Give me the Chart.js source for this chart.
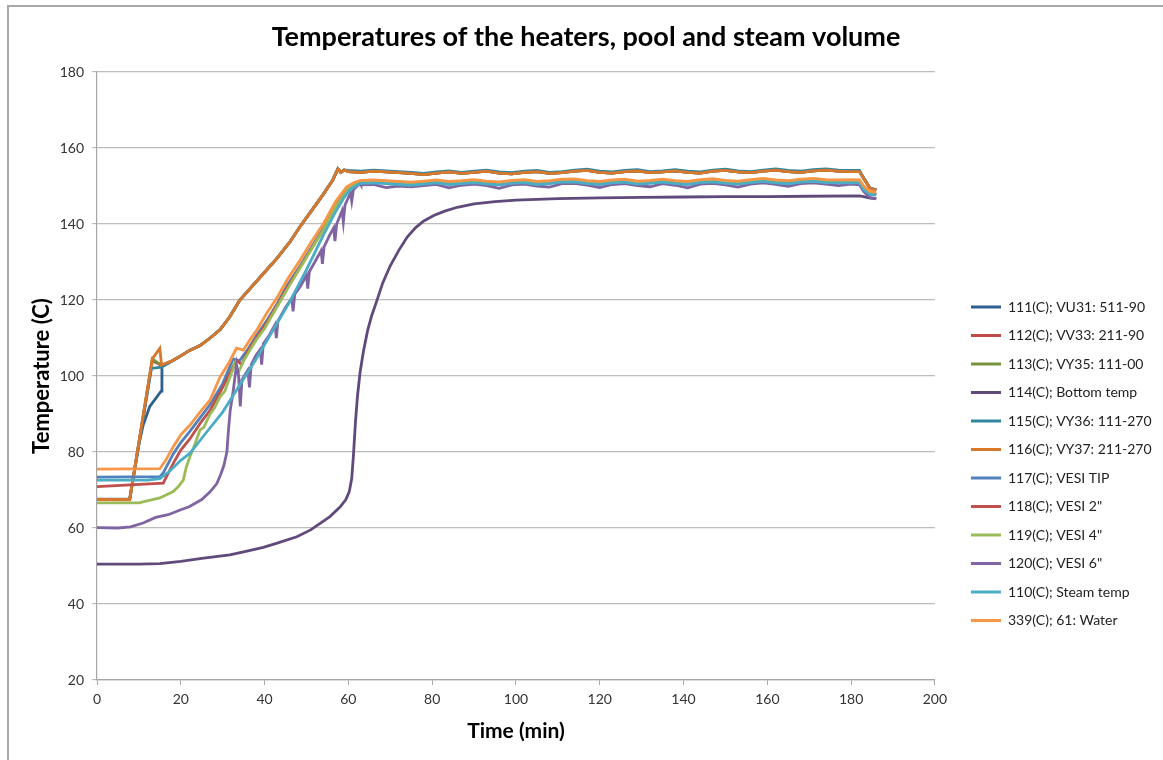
<!DOCTYPE html>
<html>
<head>
<meta charset="utf-8">
<script src="https://cdn.jsdelivr.net/npm/chart.js@4.4.1/dist/chart.umd.min.js"></script>
<style>
  html, body { margin: 0; padding: 0; background: #fff; }
  #frame { position: absolute; left: 7px; top: 5px; width: 1170px; height: 770px; border-left: 2px solid #a8a8a8; border-top: 2px solid #a8a8a8; }
  #wrap { position: absolute; left: 0; top: 0; width: 1163px; height: 760px; }
</style>
</head>
<body>
<div id="frame"></div>
<div id="wrap"><canvas id="chart" width="1163" height="760"></canvas></div>
<script>
// --- series names and colours (legend order) ---
const seriesNames = [
  '111(C); VU31: 511-90', '112(C); VV33: 211-90', '113(C); VY35: 111-00',
  '114(C); Bottom temp', '115(C); VY36: 111-270', '116(C); VY37: 211-270',
  '117(C); VESI TIP', '118(C); VESI 2"', '119(C); VESI 4"', '120(C); VESI 6"',
  '110(C); Steam temp', '339(C); 61: Water'
];
const seriesColors = [
  '#2f5f8f', '#be4b48', '#77933c', '#604a7b', '#31859c', '#d9782d',
  '#4f81bd', '#c0504d', '#9bbb59', '#8064a2', '#4bacc6', '#f79646'
];

// --- shared time grids (min) ---
const heaterRiseT = [18, 20, 22.2, 24.6, 27, 29.4, 31.7, 34.1, 37, 40, 43, 46, 48.4, 51, 54, 56.3, 57.5, 58.2, 59];
const heaterRiseV = [104, 105.3, 106.8, 108, 110, 112.2, 115.6, 120, 123.6, 127.3, 131, 135.2, 139.2, 143.2, 147.8, 151.6, 154.5, 153.6, 154.2];

const plateauT = [60, 63, 66, 69, 72, 75, 78, 81, 84, 87,
  90, 93, 96, 99, 102, 105, 108, 111, 114, 117,
  120, 123, 126, 129, 132, 135, 138, 141, 144, 147,
  150, 153, 156, 159, 162, 165, 168, 171, 174, 177,
  180, 182, 183, 184.5, 186];
const vesiPlatT = [63, 66, 69, 72, 75, 78, 81, 84, 87, 90,
  93, 96, 99, 102, 105, 108, 111, 114, 117, 120,
  123, 126, 129, 132, 135, 138, 141, 144, 147, 150,
  153, 156, 159, 162, 165, 168, 171, 174, 177, 180,
  182, 183, 184.5, 186];

// --- plateau values (C) ---
const heaterPlatV = [153.8, 153.6, 153.9, 153.7, 153.5, 153.3, 153.0, 153.4, 153.7, 153.3,
  153.6, 153.9, 153.4, 153.2, 153.6, 153.8, 153.3, 153.5, 153.9, 154.1,
  153.6, 153.4, 153.8, 154.0, 153.5, 153.7, 154.0, 153.6, 153.4, 153.9,
  154.1, 153.7, 153.5, 153.9, 154.2, 153.8, 153.6, 154.0, 154.2, 153.9,
  153.8, 153.8, 152.0, 149.4, 148.9];
const vy36PlatV = [154.1, 153.9, 154.2, 154.0, 153.8, 153.6, 153.3, 153.7, 154.0, 153.6,
  153.9, 154.2, 153.7, 153.5, 153.9, 154.1, 153.6, 153.8, 154.2, 154.4,
  153.9, 153.7, 154.1, 154.3, 153.8, 154.0, 154.3, 153.9, 153.7, 154.2,
  154.4, 154.0, 153.8, 154.2, 154.5, 154.1, 153.9, 154.3, 154.5, 154.2,
  154.1, 154.1, 152.2, 149.5, 149.0];
const vesiPlatV = [150.9, 151.0, 150.8, 150.6, 150.4, 150.7, 151.0, 150.6, 150.8, 151.1,
  150.7, 150.5, 150.9, 151.1, 150.6, 150.8, 151.2, 151.3, 150.8, 150.6,
  151.0, 151.2, 150.7, 150.9, 151.2, 150.8, 150.6, 151.1, 151.3, 150.9,
  150.7, 151.1, 151.4, 151.0, 150.8, 151.2, 151.4, 151.1, 151.0, 151.1,
  151.0, 149.5, 148.0, 147.8];
const waterPlatV = [151.5, 151.6, 151.4, 151.2, 151.0, 151.3, 151.6, 151.2, 151.4, 151.7,
  151.3, 151.1, 151.5, 151.7, 151.2, 151.4, 151.8, 151.9, 151.4, 151.2,
  151.6, 151.8, 151.3, 151.5, 151.8, 151.4, 151.2, 151.7, 151.9, 151.5,
  151.3, 151.7, 152.0, 151.6, 151.4, 151.8, 152.0, 151.7, 151.6, 151.7,
  151.6, 150.0, 148.6, 148.4];
const steamPlatV = [150.7, 150.8, 150.6, 150.4, 150.2, 150.5, 150.8, 150.4, 150.6, 150.9,
  150.5, 150.3, 150.7, 150.9, 150.4, 150.6, 151.0, 151.1, 150.6, 150.4,
  150.8, 151.0, 150.5, 150.7, 151.0, 150.6, 150.4, 150.9, 151.1, 150.7,
  150.5, 150.9, 151.2, 150.8, 150.6, 151.0, 151.2, 150.9, 150.8, 150.9,
  150.8, 149.0, 147.8, 147.6];
const vesi6PlatV = [150.3, 150.4, 149.6, 150.0, 149.8, 150.1, 150.4, 149.5, 150.2, 150.5,
  150.1, 149.4, 150.3, 150.5, 150.0, 149.7, 150.6, 150.7, 150.2, 149.6,
  150.4, 150.6, 150.1, 149.8, 150.6, 150.2, 149.5, 150.5, 150.7, 150.3,
  149.7, 150.5, 150.8, 150.4, 149.9, 150.6, 150.8, 150.5, 150.1, 150.5,
  150.3, 148.5, 147.0, 146.6];

// --- early part of each series ---
const t111 = [0, 7.8, 10, 11, 12.6, 15.3, 15.5];
const v111 = [67.5, 67.5, 82, 87, 92, 96, 102.5];
const t112 = [0, 7.8, 13.2, 15.4];
const v112 = [67.5, 67.5, 104, 102.8];
const t113 = [0, 7.8, 13.2, 15.4];
const v113 = [67.5, 67.4, 104.5, 102.8];
const t115 = [0, 7.8, 13, 15.4];
const v115 = [67.6, 67.6, 102, 102.3];
const t116 = [0, 7.8, 13.2, 15, 15.4];
const v116 = [67.5, 67.5, 104.5, 107.3, 102.9];

const t114 = [0, 10, 15, 20, 25, 31.7, 35, 39.7, 43, 47.7, 51, 55.6, 58, 59.4, 60.2, 60.8, 61.2, 61.7, 62.2, 62.8,
  63.6, 64.6, 65.6, 66.7, 68.2, 70, 72, 74, 76, 78, 80.5, 83, 86, 90, 95, 100, 110, 120, 130, 140, 150, 160, 170, 182, 183, 184.5, 186];
const v114 = [50.5, 50.5, 50.6, 51.2, 52, 52.9, 53.7, 54.9, 56, 57.7, 59.5, 63, 65.5, 67.5, 69.5, 73, 79, 88, 95, 101,
  106.5, 112, 116, 119.5, 124.5, 129, 133, 136.5, 139, 140.8, 142.3, 143.4, 144.4, 145.3, 145.9, 146.3, 146.7, 146.9, 147, 147.1, 147.2, 147.2, 147.3, 147.4, 147.2, 146.8, 146.7];

const t117 = [0, 15, 15.8, 18.2, 20, 22.2, 24.6, 27, 30, 32.5, 34, 36, 38, 40.5, 43, 45.5, 48.5, 51, 54, 57, 60, 61.5];
const v117 = [73.4, 73.5, 74.5, 79.5, 82.5, 85.5, 89, 92.5, 98, 104.5, 104, 107, 110.5, 114.5, 119, 124, 129, 133.5, 138.8, 145, 149.5, 150.4];
const t118 = [0, 15.8, 18.2, 20, 22.2, 24.6, 27, 30, 33.3, 34.5, 36, 38, 40.5, 43, 45.5, 48.5, 51, 54, 57, 60, 61.5];
const v118 = [70.9, 71.8, 77, 80.5, 83.5, 87.5, 91, 97, 104.2, 103, 106.5, 110, 114, 118.7, 123.5, 128.7, 133.2, 138.5, 144.8, 149.3, 150.4];
const t119 = [0, 10, 15, 18.2, 19.5, 20.6, 21.3, 22.2, 23, 24.6, 25.5, 27, 28, 29.4, 30.5, 31.5, 33, 33.7, 35, 36.5,
  38, 40, 43, 45.5, 48.5, 51, 54, 57, 60, 61.5];
const v119 = [66.6, 66.6, 67.9, 69.6, 71, 72.6, 76, 78.8, 81, 85.8, 86.5, 90, 91.5, 94.6, 96, 99, 103.4, 100.8, 104, 106.8,
  109.5, 112.5, 118.3, 123, 128.5, 133, 138.4, 144.6, 149.2, 150.4];
const t120 = [0, 5, 8, 11, 14, 17, 20, 22, 25, 27, 28.6, 29.5, 30.3, 31, 31.4, 31.8, 32.5, 33.3, 33.8, 34.2,
  34.6, 36, 36.4, 36.8, 38, 39, 39.3, 39.7, 41, 42.5, 42.8, 43.2, 45, 46.5, 46.8, 47.2, 48.5, 50, 50.3, 50.7,
  52, 53.5, 53.8, 54.2, 55.5, 56.5, 56.8, 57.2, 58.5, 58.8, 59.2, 60.5, 60.8, 61.2, 62.8];
const v120 = [60.1, 60, 60.3, 61.3, 62.8, 63.5, 64.8, 65.6, 67.5, 69.5, 71.7, 74, 76.5, 80, 86, 91, 96, 103, 100, 92,
  99, 101.5, 97, 103, 105.5, 107, 103, 108.5, 110.5, 113.5, 110, 114.5, 118, 120.5, 117, 121.5, 123.5, 126.5, 123, 127.5,
  130, 133, 129.5, 134, 137, 139, 135.5, 140, 143.5, 140.5, 145, 148.2, 146, 149, 150.7];
const t110 = [0, 12, 15, 17.4, 20, 22.2, 26, 30, 34, 38, 42, 46, 50, 54, 57, 59, 60.4, 62];
const v110 = [72.6, 72.6, 73, 75, 77.8, 79.7, 85, 90.5, 97.5, 104.5, 112, 119.5, 128, 137, 143.3, 147, 149, 150.2];
const t339 = [0, 15, 16.5, 18.2, 20, 22.2, 24.6, 27, 29.4, 31.5, 33.3, 34.9, 36.5, 38.1, 40.5, 42.9, 45.5, 48.5, 51, 54, 57, 59.6, 61.5];
const v339 = [75.5, 75.6, 78, 81.4, 84.5, 87.1, 90.5, 93.7, 99.8, 103.5, 107.3, 106.8, 109.5, 112, 116.5, 120.5, 125.5, 130.5, 135, 140, 146, 149.8, 151];

const xTicks = { min: 0, max: 200, step: 20 };
const yTicks = { min: 20, max: 180, step: 20 };

const pts = (ts, vs) => ts.map((t, i) => ({ x: t, y: vs[i] }));

const seriesData = [
  pts([...t111, ...heaterRiseT, ...plateauT], [...v111, ...heaterRiseV, ...heaterPlatV]),
  pts([...t112, ...heaterRiseT, ...plateauT], [...v112, ...heaterRiseV, ...heaterPlatV]),
  pts([...t113, ...heaterRiseT, ...plateauT], [...v113, ...heaterRiseV, ...heaterPlatV]),
  pts(t114, v114),
  pts([...t115, ...heaterRiseT, ...plateauT], [...v115, ...heaterRiseV, ...vy36PlatV]),
  pts([...t116, ...heaterRiseT, ...plateauT], [...v116, ...heaterRiseV, ...heaterPlatV]),
  pts([...t117, ...vesiPlatT], [...v117, ...vesiPlatV]),
  pts([...t118, ...vesiPlatT], [...v118, ...vesiPlatV]),
  pts([...t119, ...vesiPlatT], [...v119, ...vesiPlatV]),
  pts([...t120, ...vesiPlatT], [...v120, ...vesi6PlatV]),
  pts([...t110, ...vesiPlatT], [...v110, ...steamPlatV]),
  pts([...t339, ...vesiPlatT], [...v339, ...waterPlatV])
];

Chart.defaults.font.family = 'Lato, "Noto Sans", sans-serif';
Chart.defaults.color = '#333';

// place legend and title after layout
const legendPlace = {
  id: 'legendPlace',
  afterLayout(chart) {
    const lg = chart.legend;
    lg.left = 956.5;
    lg.top = 285.5;
    lg.right = 1163;
    lg.bottom = 760;
    lg.adjustHitBoxes();
    const tb = chart.titleBlock;
    tb.left += 11;
    tb.right += 11;
  }
};

new Chart(document.getElementById('chart'), {
  type: 'line',
  data: {
    datasets: seriesNames.map((name, i) => ({
      label: name,
      data: seriesData[i],
      borderColor: seriesColors[i],
      backgroundColor: seriesColors[i],
      borderWidth: 2.8,
      pointRadius: 0,
      tension: 0,
      order: seriesNames.length - 1 - i
    }))
  },
  options: {
    responsive: false,
    animation: false,
    parsing: false,
    layout: { padding: { left: 10, top: 10, right: 23, bottom: 0 } },
    scales: {
      x: {
        type: 'linear',
        min: xTicks.min, max: xTicks.max,
        ticks: { stepSize: xTicks.step, font: { size: 14 }, color: '#333', padding: 6 },
        grid: { drawOnChartArea: false, drawTicks: true, tickLength: 5, color: '#a6a6a6' },
        border: { color: '#a6a6a6', width: 1.2 },
        title: { display: true, text: 'Time (min)', font: { size: 21, weight: 'bold' }, color: '#000', padding: { top: 0, bottom: 16.4 } },
        afterFit: s => { s.height = 80; }
      },
      y: {
        min: yTicks.min, max: yTicks.max,
        ticks: { stepSize: yTicks.step, font: { size: 14 }, color: '#333', padding: 8 },
        grid: { color: '#bdbdbd', lineWidth: 1.2, tickLength: 5 },
        border: { color: '#a6a6a6', width: 1.2 },
        title: { display: true, text: 'Temperature (C)', font: { size: 22, weight: 'bold' }, color: '#000', padding: { top: 18.8, bottom: 0 } },
        afterFit: s => { s.width = 87; }
      }
    },
    plugins: {
      title: {
        display: true,
        text: 'Temperatures of the heaters, pool and steam volume',
        font: { size: 27, weight: 'bold' },
        color: '#000',
        padding: { top: 10.8, bottom: 18.8 }
      },
      legend: {
        position: 'right',
        align: 'start',
        reverse: true,
        labels: {
          usePointStyle: true,
          pointStyle: 'line',
          pointStyleWidth: 30,
          padding: 14.5,
          color: '#222',
          font: { size: 14 }
        }
      },
      tooltip: { enabled: false }
    }
  },
  plugins: [legendPlace]
});
</script>
</body>
</html>
